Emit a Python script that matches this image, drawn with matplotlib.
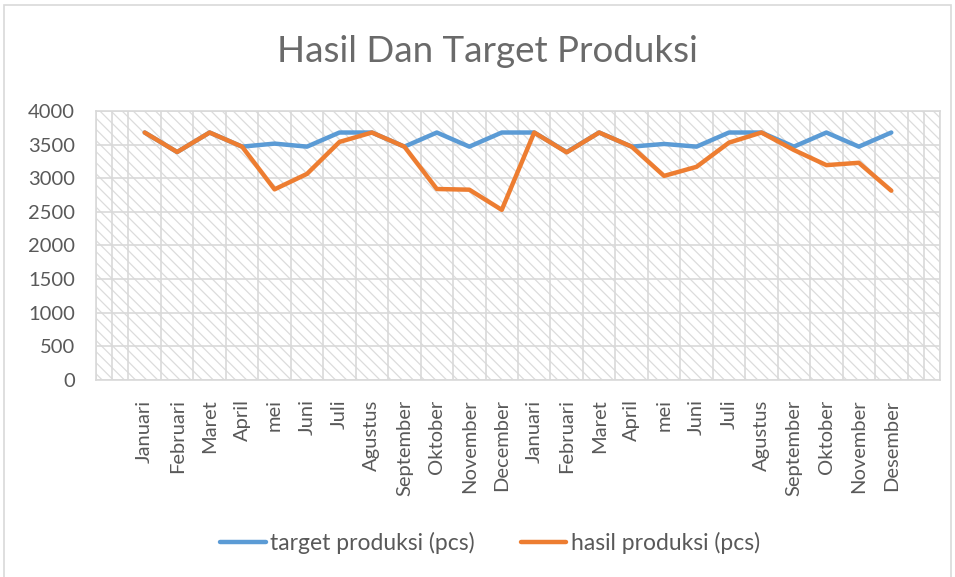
import numpy as np
import matplotlib
matplotlib.use('Agg')
import matplotlib.pyplot as plt
from matplotlib.patches import Rectangle

# data
bulan = ['Januari', 'Februari', 'Maret', 'April', 'mei', 'Juni', 'Juli', 'Agustus',
         'September', 'Oktober', 'November', 'December',
         'Januari', 'Februari', 'Maret', 'April', 'mei', 'Juni', 'Juli', 'Agustus',
         'September', 'Oktober', 'November', 'Desember']
target = [3680, 3390, 3680, 3470, 3515, 3470, 3680, 3680, 3470, 3680, 3470, 3680,
          3680, 3390, 3680, 3470, 3510, 3470, 3680, 3680, 3470, 3680, 3470, 3680]
hasil = [3680, 3390, 3680, 3470, 2835, 3065, 3540, 3680, 3470, 2840, 2830, 2530,
         3680, 3385, 3680, 3470, 3035, 3170, 3530, 3680, 3420, 3195, 3230, 2815]

plt.rcParams['font.family'] = ['Lato', 'DejaVu Sans']
plt.rcParams['hatch.linewidth'] = 0.9
teks = '#595959'
abu = '#d9d9d9'

fig = plt.figure(figsize=(9.55, 5.77), dpi=100)
fig.patches.append(Rectangle((4 / 955, -0.01), 947 / 955, 1 - 5 / 577 + 0.01,
                             transform=fig.transFigure, fill=False,
                             edgecolor=abu, linewidth=1.2))

ax = fig.add_axes([96 / 955, 1 - 380 / 577, 844 / 955, 269 / 577])

# latar arsir
ax.add_patch(Rectangle((0, 0), 1, 1, transform=ax.transAxes, fill=False,
                       hatch='\\\\\\', edgecolor='#dcdcdc', linewidth=0, zorder=0))

x = np.arange(1, len(bulan) + 1)
ax.plot(x, target, color='#5B9BD5', linewidth=3.2, label='target produksi (pcs)',
        solid_capstyle='round', zorder=3)
ax.plot(x, hasil, color='#ED7D31', linewidth=3.2, label='hasil produksi (pcs)',
        solid_capstyle='round', zorder=4)

ax.set_xlim(-0.5, len(bulan) + 1.5)
ax.set_ylim(0, 4000)
ax.set_yticks(np.arange(0, 4001, 500))
ax.set_xticks(x)
ax.set_xticklabels(bulan, rotation=90)
ax.set_xticks(np.arange(-0.5, len(bulan) + 1.51, 0.5), minor=True)
ax.grid(True, which='major', axis='y', color=abu, linewidth=1.2, zorder=1)
ax.grid(True, which='minor', axis='x', color=abu, linewidth=1.2, zorder=1)
ax.tick_params(which='both', length=0)
ax.tick_params(axis='y', pad=15, labelsize=14.5, labelcolor=teks)
ax.tick_params(axis='x', pad=14, labelsize=14.5, labelcolor=teks)
for s in ax.spines.values():
    s.set_color(abu)
    s.set_linewidth(1.2)

fig.text(0.51, 1 - 52 / 577, 'Hasil Dan Target Produksi', ha='center', va='center',
         fontsize=26.5, color='#6a6a6a')

fig.legend(loc='center', bbox_to_anchor=(0.513, 1 - 543 / 577), ncol=2, frameon=False,
           fontsize=16.5, labelcolor=teks, handlelength=2.0, handletextpad=0.2,
           columnspacing=2.0)

plt.savefig('out.png', dpi=100)
